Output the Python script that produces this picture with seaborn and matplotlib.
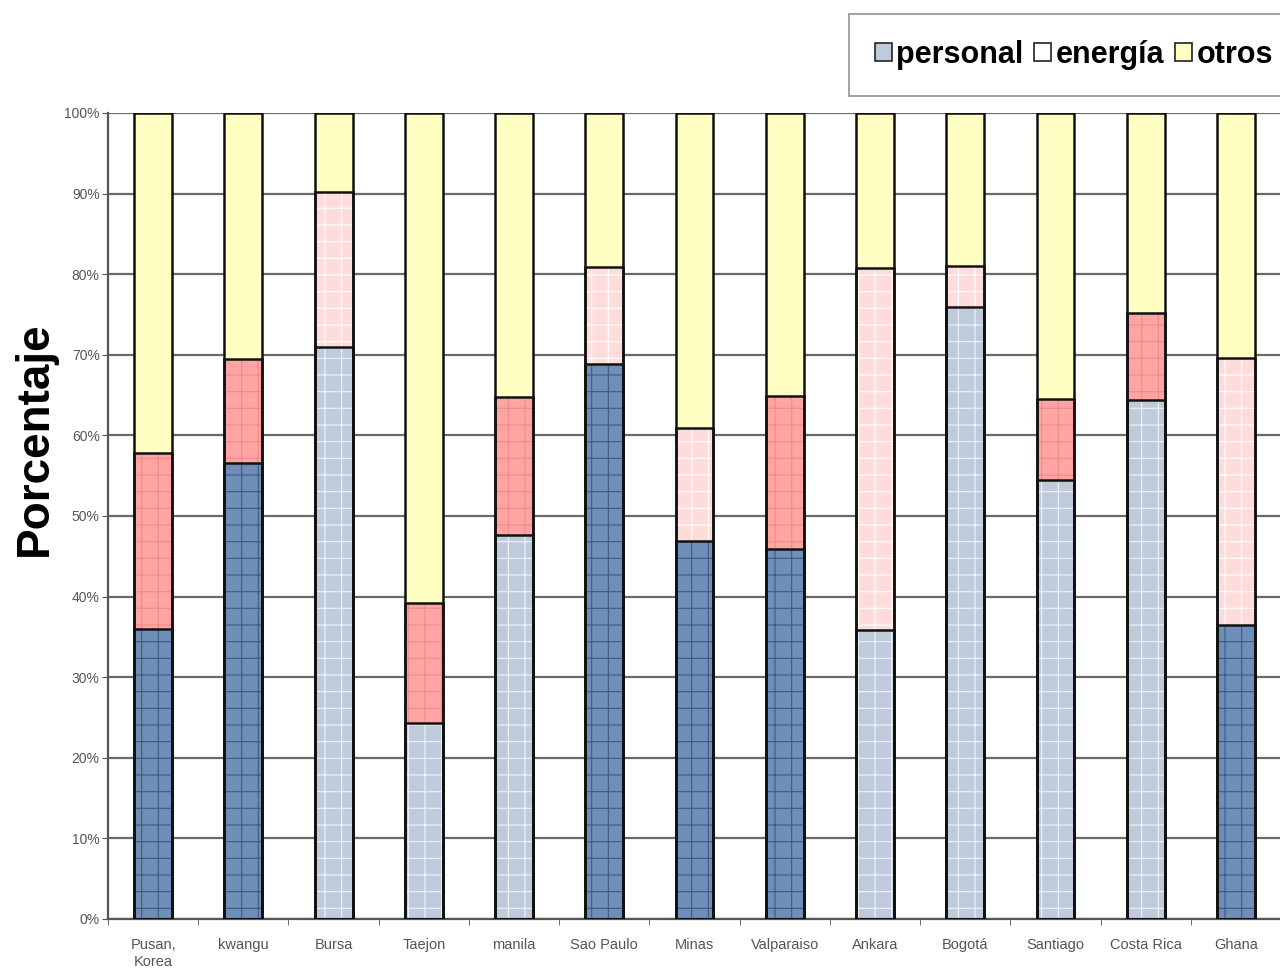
import numpy as np
import pandas as pd
import matplotlib.pyplot as plt
import seaborn as sns
from matplotlib.patches import Patch, Rectangle
from matplotlib.ticker import MultipleLocator, PercentFormatter

cities = ["Pusan,\nKorea", "kwangu", "Bursa", "Taejon", "manila", "Sao Paulo", "Minas",
          "Valparaiso", "Ankara", "Bogotá", "Santiago", "Costa Rica", "Ghana"]
personal = [36.0, 56.6, 71.0, 24.3, 47.6, 68.9, 46.9, 45.9, 35.9, 75.9, 54.5, 64.4, 36.5]
energia = [21.8, 12.9, 19.2, 14.9, 17.2, 12.0, 14.0, 19.0, 44.9, 5.1, 10.0, 10.8, 33.1]
# shade of each bar segment in the original (1 = darker fill)
personal_dark = [1, 1, 0, 0, 0, 1, 1, 1, 0, 0, 0, 0, 1]
energia_dark = [1, 1, 0, 1, 1, 0, 0, 1, 0, 0, 1, 1, 0]
legend_labels = ["personal", "energía", "otros"]

df = pd.DataFrame({"city": cities, "personal": personal, "energia": energia})
df["otros"] = 100 - df["personal"] - df["energia"]
df["cum_energia"] = df["personal"] + df["energia"]
df["cum_otros"] = df["cum_energia"] + df["otros"]

BLUE_D, BLUE_L = "#6f8fb8", "#bfcbdb"
RED_D, RED_L = "#ffa3a3", "#ffdcdc"
YELLOW = "#ffffc4"

plt.rcParams["font.family"] = ["Liberation Sans", "DejaVu Sans"]
plt.rcParams["hatch.linewidth"] = 0.8

fig = plt.figure(figsize=(12.8, 9.74), dpi=100)
ax = fig.add_axes([0.0844, 0.0565, 0.9164, 0.8275])

layers = [
    ("cum_otros", [YELLOW] * len(cities), [None] * len(cities)),
    ("cum_energia", [RED_D if d else RED_L for d in energia_dark],
     ["#ec8c8c" if d else "#ffffff" for d in energia_dark]),
    ("personal", [BLUE_D if d else BLUE_L for d in personal_dark],
     ["#3d5b82" if d else "#eef3f8" for d in personal_dark]),
]

for col, colors, hatch_colors in layers:
    n0 = len(ax.patches)
    sns.barplot(data=df, x="city", y=col, hue="city", palette=colors, legend=False,
                width=0.42, saturation=1, linewidth=0, ax=ax, zorder=2)
    for p, hc in zip(ax.patches[n0:], hatch_colors):
        if hc is not None:
            p.set_hatch("+")
            p.set_edgecolor(hc)
            p.set_linewidth(0)
        outline = Rectangle(p.get_xy(), p.get_width(), p.get_height(), fill=False,
                            edgecolor="#111111", linewidth=1.8, zorder=3)
        ax.add_patch(outline)

ax.set_xlim(-0.5, len(cities) - 0.5)
ax.set_ylim(0, 100)
ax.yaxis.set_major_locator(MultipleLocator(10))
ax.yaxis.set_major_formatter(PercentFormatter(decimals=0))
ax.set_axisbelow(True)
ax.yaxis.grid(True, color="#6a6a6a", linewidth=1.6)
ax.xaxis.grid(False)

for s in ["top", "right"]:
    ax.spines[s].set_visible(False)
ax.spines["left"].set_color("#555555")
ax.spines["left"].set_linewidth(1.6)
ax.spines["bottom"].set_color("#555555")
ax.spines["bottom"].set_linewidth(1.6)

ax.set_xticks(np.arange(len(cities) + 1) - 0.5, minor=True)
ax.tick_params(axis="x", which="major", length=0, pad=14, labelsize=10.5, labelcolor="#555555")
ax.tick_params(axis="x", which="minor", length=4, color="#555555")
ax.tick_params(axis="y", length=4, color="#555555", labelsize=10, labelcolor="#555555", pad=2)

ax.set_xlabel("")
ax.set_ylabel("Porcentaje", fontsize=33, fontweight="bold")
ax.yaxis.set_label_coords(-0.044, 0.596)

handles = [Patch(facecolor=BLUE_L, edgecolor="#222222", linewidth=1.2),
           Patch(facecolor="#ffffff", edgecolor="#222222", linewidth=1.2),
           Patch(facecolor=YELLOW, edgecolor="#222222", linewidth=1.2)]
leg = fig.legend(handles, legend_labels, loc="upper left", bbox_to_anchor=(849 / 1280, 1 - 14 / 974),
                 ncol=3, frameon=True, fancybox=False, edgecolor="#777777",
                 prop={"weight": "bold", "size": 22}, handlelength=0.55, handleheight=0.55,
                 handletextpad=0.15, columnspacing=0.35, borderpad=0.85, borderaxespad=0)
leg.get_frame().set_linewidth(1.2)

fig.savefig("out.png", dpi=100)
